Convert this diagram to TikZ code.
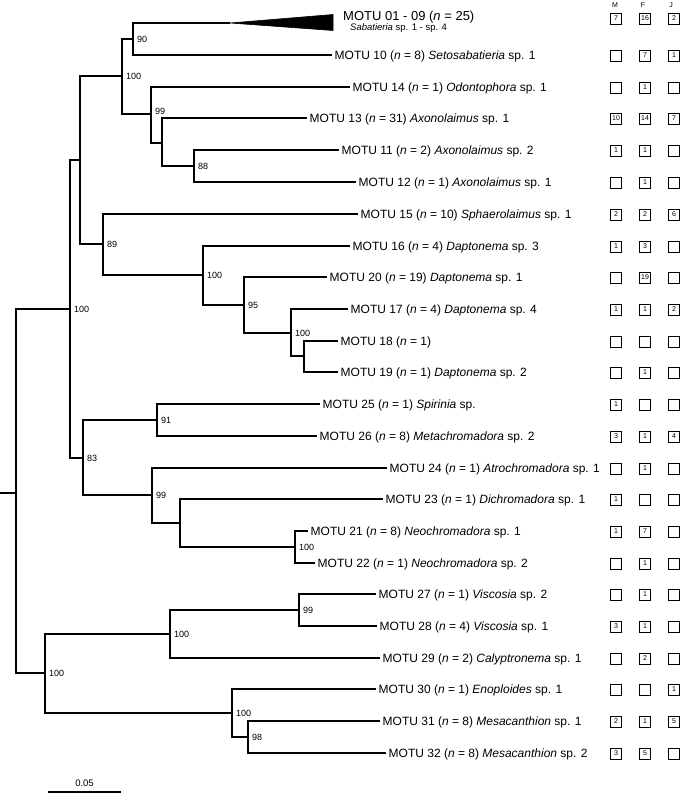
\documentclass[tikz,border=0pt]{standalone}
\usepackage{fontspec}
\setmainfont{Liberation Sans}
\newcommand{\cntrow}[5]{%
  \node[cnt] (#1m) at (616,#2) {#3};
  \node[cnt] (#1f) at (645,#2) {#4};
  \node[cnt] (#1j) at (674,#2) {#5};
}
\begin{document}
\begin{tikzpicture}[x=1pt,y=-1pt,
  branch/.style={line width=1.8pt, line join=miter},
  sup/.style={font=\fontsize{9}{10}\selectfont, anchor=west, inner sep=0pt, xshift=4pt},
  leaflab/.style={font=\fontsize{12}{14}\selectfont, anchor=base west, inner sep=0pt, xshift=2.5pt, yshift=-4.3pt},
  cnt/.style={draw, line width=0.8pt, minimum width=11pt, minimum height=11pt, inner sep=0pt, font=\fontsize{7}{8}\selectfont},
  hdr/.style={font=\fontsize{7}{8}\selectfont, inner sep=0pt}]
\useasboundingbox (0,0) rectangle (685,795);
% internal nodes
\coordinate (root0) at (0,493);
\coordinate (R) at (16,493);
\coordinate (A) at (70,309);
\coordinate (B) at (80,160);
\coordinate (C) at (83,458);
\coordinate (D) at (122,76);
\coordinate (E) at (103,244);
\coordinate (F) at (133,39);
\coordinate (G) at (151,114);
\coordinate (H) at (162,143);
\coordinate (I) at (194,166);
\coordinate (J) at (203,275);
\coordinate (K) at (244,305);
\coordinate (L) at (291,333);
\coordinate (M) at (304,356);
\coordinate (N) at (157,420);
\coordinate (O) at (152,495);
\coordinate (P) at (180,523);
\coordinate (Q) at (295,547);
\coordinate (S) at (45,673);
\coordinate (T) at (170,634);
\coordinate (U) at (232,713);
\coordinate (V) at (299,610);
\coordinate (W) at (248,737);
% leaves
\coordinate (l1) at (230,23);
\coordinate (l2) at (332,55);
\coordinate (l3) at (350,87);
\coordinate (l4) at (307,118);
\coordinate (l5) at (339,150);
\coordinate (l6) at (356,182);
\coordinate (l7) at (358,214);
\coordinate (l8) at (350,246);
\coordinate (l9) at (327,277);
\coordinate (l10) at (348,309);
\coordinate (l11) at (338,341);
\coordinate (l12) at (338,372);
\coordinate (l13) at (320,404);
\coordinate (l14) at (317,436);
\coordinate (l15) at (387,468);
\coordinate (l16) at (383,499);
\coordinate (l17) at (308,531);
\coordinate (l18) at (315,563);
\coordinate (l19) at (376,594);
\coordinate (l20) at (377,626);
\coordinate (l21) at (380,658);
\coordinate (l22) at (376,689);
\coordinate (l23) at (380,721);
\coordinate (l24) at (386,753);
% branches
\draw[branch] (root0) -- (R);
\draw[branch] (R) |- (A);
\draw[branch] (R) |- (S);
\draw[branch] (A) |- (B);
\draw[branch] (A) |- (C);
\draw[branch] (B) |- (D);
\draw[branch] (B) |- (E);
\draw[branch] (D) |- (F);
\draw[branch] (D) |- (G);
\draw[branch] (F) |- (l1);
\draw[branch] (F) |- (l2);
\draw[branch] (G) |- (l3);
\draw[branch] (G) |- (H);
\draw[branch] (H) |- (l4);
\draw[branch] (H) |- (I);
\draw[branch] (I) |- (l5);
\draw[branch] (I) |- (l6);
\draw[branch] (E) |- (l7);
\draw[branch] (E) |- (J);
\draw[branch] (J) |- (l8);
\draw[branch] (J) |- (K);
\draw[branch] (K) |- (l9);
\draw[branch] (K) |- (L);
\draw[branch] (L) |- (l10);
\draw[branch] (L) |- (M);
\draw[branch] (M) |- (l11);
\draw[branch] (M) |- (l12);
\draw[branch] (C) |- (N);
\draw[branch] (C) |- (O);
\draw[branch] (N) |- (l13);
\draw[branch] (N) |- (l14);
\draw[branch] (O) |- (l15);
\draw[branch] (O) |- (P);
\draw[branch] (P) |- (l16);
\draw[branch] (P) |- (Q);
\draw[branch] (Q) |- (l17);
\draw[branch] (Q) |- (l18);
\draw[branch] (S) |- (T);
\draw[branch] (S) |- (U);
\draw[branch] (T) |- (V);
\draw[branch] (T) |- (l21);
\draw[branch] (V) |- (l19);
\draw[branch] (V) |- (l20);
\draw[branch] (U) |- (l22);
\draw[branch] (U) |- (W);
\draw[branch] (W) |- (l23);
\draw[branch] (W) |- (l24);
% collapsed clade
\fill[line join=round, draw, line width=0.6pt] (l1) -- (333,14.5) -- (333,30.5) -- cycle;
% support values
\node[sup] (sA) at (A) {100};
\node[sup] (sC) at (C) {83};
\node[sup] (sD) at (D) {100};
\node[sup] (sE) at (E) {89};
\node[sup] (sF) at (F) {90};
\node[sup] (sG) at (151,111) {99};
\node[sup] (sI) at (I) {88};
\node[sup] (sJ) at (J) {100};
\node[sup] (sK) at (K) {95};
\node[sup] (sL) at (L) {100};
\node[sup] (sN) at (N) {91};
\node[sup] (sO) at (O) {99};
\node[sup] (sQ) at (Q) {100};
\node[sup] (sS) at (S) {100};
\node[sup] (sT) at (T) {100};
\node[sup] (sU) at (U) {100};
\node[sup] (sV) at (V) {99};
\node[sup] (sW) at (W) {98};
% leaf labels
\node[font=\fontsize{13}{15}\selectfont, anchor=base west, inner sep=0pt] (t1) at (343,20) {MOTU 01 - 09 (\textit{n} = 25)};
\node[font=\fontsize{9.5}{11}\selectfont, anchor=base west, inner sep=0pt] (t1b) at (350,30.5) {\textit{Sabatieria} sp. 1 - sp. 4};
\node[leaflab] (t2) at (l2) {MOTU 10 (\textit{n} = 8) \textit{Setosabatieria} sp. 1};
\node[leaflab] (t3) at (l3) {MOTU 14 (\textit{n} = 1) \textit{Odontophora} sp. 1};
\node[leaflab] (t4) at (l4) {MOTU 13 (\textit{n} = 31) \textit{Axonolaimus} sp. 1};
\node[leaflab] (t5) at (l5) {MOTU 11 (\textit{n} = 2) \textit{Axonolaimus} sp. 2};
\node[leaflab] (t6) at (l6) {MOTU 12 (\textit{n} = 1) \textit{Axonolaimus} sp. 1};
\node[leaflab] (t7) at (l7) {MOTU 15 (\textit{n} = 10) \textit{Sphaerolaimus} sp. 1};
\node[leaflab] (t8) at (l8) {MOTU 16 (\textit{n} = 4) \textit{Daptonema} sp. 3};
\node[leaflab] (t9) at (l9) {MOTU 20 (\textit{n} = 19) \textit{Daptonema} sp. 1};
\node[leaflab] (t10) at (l10) {MOTU 17 (\textit{n} = 4) \textit{Daptonema} sp. 4};
\node[leaflab] (t11) at (l11) {MOTU 18 (\textit{n} = 1)};
\node[leaflab] (t12) at (l12) {MOTU 19 (\textit{n} = 1) \textit{Daptonema} sp. 2};
\node[leaflab] (t13) at (l13) {MOTU 25 (\textit{n} = 1) \textit{Spirinia} sp.};
\node[leaflab] (t14) at (l14) {MOTU 26 (\textit{n} = 8) \textit{Metachromadora} sp. 2};
\node[leaflab] (t15) at (l15) {MOTU 24 (\textit{n} = 1) \textit{Atrochromadora} sp. 1};
\node[leaflab] (t16) at (l16) {MOTU 23 (\textit{n} = 1) \textit{Dichromadora} sp. 1};
\node[leaflab] (t17) at (l17) {MOTU 21 (\textit{n} = 8) \textit{Neochromadora} sp. 1};
\node[leaflab] (t18) at (l18) {MOTU 22 (\textit{n} = 1) \textit{Neochromadora} sp. 2};
\node[leaflab] (t19) at (l19) {MOTU 27 (\textit{n} = 1) \textit{Viscosia} sp. 2};
\node[leaflab] (t20) at (l20) {MOTU 28 (\textit{n} = 4) \textit{Viscosia} sp. 1};
\node[leaflab] (t21) at (l21) {MOTU 29 (\textit{n} = 2) \textit{Calyptronema} sp. 1};
\node[leaflab] (t22) at (l22) {MOTU 30 (\textit{n} = 1) \textit{Enoploides} sp. 1};
\node[leaflab] (t23) at (l23) {MOTU 31 (\textit{n} = 8) \textit{Mesacanthion} sp. 1};
\node[leaflab] (t24) at (l24) {MOTU 32 (\textit{n} = 8) \textit{Mesacanthion} sp. 2};
% headers
\node[hdr] (hM) at (615,5) {M};
\node[hdr] (hF) at (643,5) {F};
\node[hdr] (hJ) at (671,5) {J};
% counts
\cntrow{b1}{18.5}{7}{16}{2}
\cntrow{b2}{55.5}{}{7}{1}
\cntrow{b3}{87.5}{}{1}{}
\cntrow{b4}{118.5}{10}{14}{7}
\cntrow{b5}{150.5}{1}{1}{}
\cntrow{b6}{182.5}{}{1}{}
\cntrow{b7}{214.5}{2}{2}{6}
\cntrow{b8}{246.5}{1}{3}{}
\cntrow{b9}{277.5}{}{19}{}
\cntrow{b10}{309.5}{1}{1}{2}
\cntrow{b11}{341.5}{}{}{}
\cntrow{b12}{372.5}{}{1}{}
\cntrow{b13}{404.5}{1}{}{}
\cntrow{b14}{436.5}{3}{1}{4}
\cntrow{b15}{468.5}{}{1}{}
\cntrow{b16}{499.5}{1}{}{}
\cntrow{b17}{531.5}{1}{7}{}
\cntrow{b18}{563.5}{}{1}{}
\cntrow{b19}{594.5}{}{1}{}
\cntrow{b20}{626.5}{3}{1}{}
\cntrow{b21}{658.5}{}{2}{}
\cntrow{b22}{689.5}{}{}{1}
\cntrow{b23}{721.5}{2}{1}{5}
\cntrow{b24}{753.5}{3}{5}{}
% scale bar
\coordinate (sb0) at (48,792);
\coordinate (sb1) at (121,792);
\draw[branch] (sb0) -- (sb1);
\node[font=\fontsize{9.5}{11}\selectfont, inner sep=0pt] (sbl) at (84.5,783.5) {0.05};
\end{tikzpicture}
\end{document}
